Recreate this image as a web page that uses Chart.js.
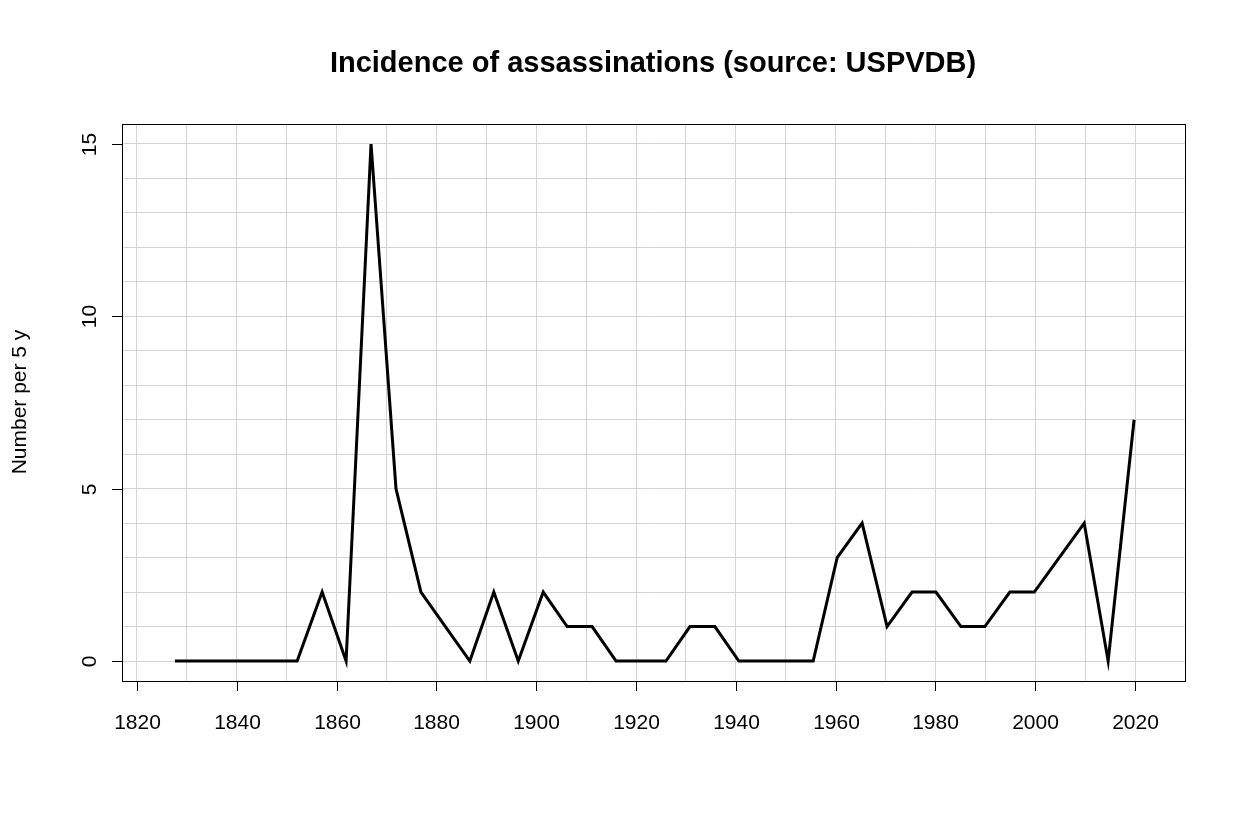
<!DOCTYPE html>
<html><head><script src="https://cdn.jsdelivr.net/npm/chart.js"></script>
<style>html,body{margin:0;background:#fff}#w{width:1248px;height:834px}</style></head>
<body><div id="w"><canvas id="c"></canvas></div>
<script>
const years=[1827.6,1832.5,1837.4,1842.3,1847.2,1852.1,1857.1,1861.9,1866.9,1871.9,1876.9,1881.8,1886.7,1891.5,1896.4,1901.4,1906.2,1911.2,1916.0,1921.0,1926.0,1930.8,1935.8,1940.6,1945.6,1950.5,1955.5,1960.3,1965.3,1970.3,1975.3,1980.1,1985.1,1989.9,1994.9,1999.8,2004.8,2009.8,2014.6,2019.8];
const counts=[0,0,0,0,0,0,2,0,15,5,2,1,0,2,0,2,1,1,0,0,0,1,1,0,0,0,0,3,4,1,2,2,1,1,2,2,3,4,0,7];
const xTicks=[1820,1840,1860,1880,1900,1920,1940,1960,1980,2000,2020];
const yTicks=[0,5,10,15];
const F='"Liberation Sans", Arial, sans-serif';
const deco={id:'deco',afterDraw(ch){
 const c=ch.ctx,a=ch.chartArea,x=ch.scales.x,y=ch.scales.y;
 c.save();c.strokeStyle='#000';c.lineWidth=1;c.strokeRect(a.left+.5,a.top+.5,a.right-a.left,a.bottom-a.top);
 c.fillStyle='#000';c.font='21px '+F;c.textAlign='center';c.textBaseline='top';
 c.beginPath();
 xTicks.forEach(v=>{const p=Math.round(x.getPixelForValue(v))+.5;c.moveTo(p,a.bottom);c.lineTo(p,a.bottom+10);c.fillText(v,p,713);});
 c.moveTo(x.getPixelForValue(1820),a.bottom+.5);c.lineTo(x.getPixelForValue(2020),a.bottom+.5);
 yTicks.forEach(v=>{const p=Math.round(y.getPixelForValue(v))+.5;c.moveTo(a.left,p);c.lineTo(a.left-10,p);
  c.save();c.translate(90,p);c.rotate(-Math.PI/2);c.textBaseline='middle';c.fillText(v,0,0);c.restore();});
 c.stroke();
 c.save();c.translate(20,402);c.rotate(-Math.PI/2);c.textBaseline='middle';c.fillText('Number per 5 y',0,0);c.restore();
 c.font='bold 29px '+F;c.textBaseline='middle';c.fillText('Incidence of assassinations (source: USPVDB)',653,64);
 c.restore();}};
new Chart(document.getElementById('c'),{type:'line',
 data:{datasets:[{data:years.map((v,i)=>({x:v,y:counts[i]})),borderColor:'#000',borderWidth:3,pointRadius:0,tension:0}]},
 options:{responsive:true,maintainAspectRatio:false,animation:false,devicePixelRatio:1,
  layout:{padding:{left:122,right:63,top:124,bottom:153}},
  plugins:{legend:{display:false},tooltip:{enabled:false}},
  scales:{x:{type:'linear',min:1817,max:2030,ticks:{display:false,stepSize:10},afterBuildTicks:s=>{s.ticks=[];for(let v=1820;v<=2030;v+=10)s.ticks.push({value:v});},grid:{color:'#d3d3d3',drawTicks:false},border:{display:false}},
   y:{min:-0.58,max:15.58,ticks:{display:false},afterBuildTicks:s=>{s.ticks=[];for(let v=0;v<=15;v++)s.ticks.push({value:v});},grid:{color:'#d3d3d3',drawTicks:false},border:{display:false}}}},
 plugins:[deco]});
</script></body></html>
